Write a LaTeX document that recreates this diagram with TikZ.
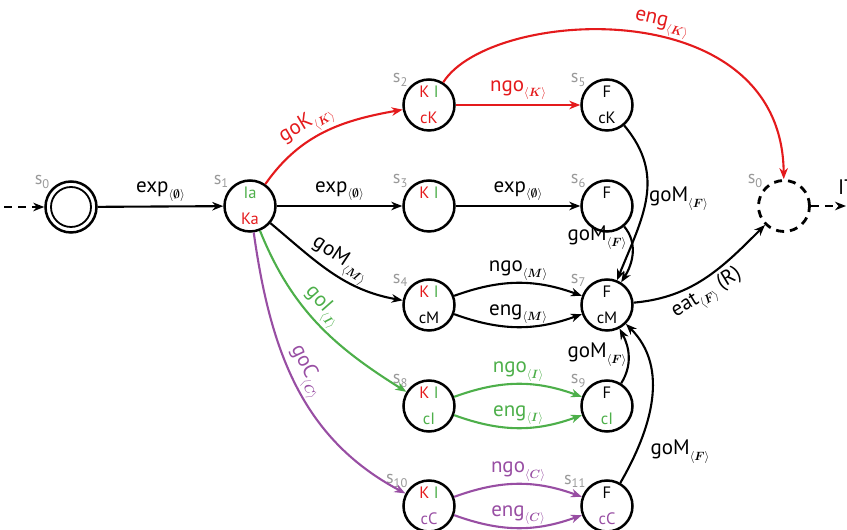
\documentclass[tikz,border=0pt]{standalone}
\usepackage{fontspec}
\setmainfont{PT Sans}
\usepackage{amsmath}
\usetikzlibrary{arrows.meta}
\definecolor{cred}{HTML}{E41A1C}
\definecolor{cgreen}{HTML}{4DAF4A}
\definecolor{cpurple}{HTML}{984EA3}
\definecolor{cgray}{HTML}{999999}
\newcommand\angsub[1]{\raisebox{-0.55ex}{\fontsize{12.5}{12.5}\selectfont$\langle\boldsymbol{#1}\rangle$}}
\newcommand\lab[2]{#1\angsub{#2}}
\newcommand\sn[1]{s\raisebox{-0.4ex}{\fontsize{12.5}{12.5}\selectfont #1}}
\newcommand\cR[1]{\textcolor{cred}{#1}}
\newcommand\cG[1]{\textcolor{cgreen}{#1}}
\newcommand\cP[1]{\textcolor{cpurple}{#1}}
\begin{document}
\begin{tikzpicture}[x=1pt,y=1pt,
  st/.style={circle, draw=black, line width=2.5pt, minimum size=51pt, inner sep=0pt,
    align=center, font=\fontsize{16.5}{26}\selectfont},
  ed/.style={line width=2.1pt, -{Stealth[length=11pt,width=8.5pt,inset=3.5pt]}},
  dsh/.style={line width=2.8pt, dash pattern=on 8pt off 6pt},
  el/.style={font=\fontsize{21}{21}\selectfont, inner sep=2pt},
  slab/.style={text=cgray, font=\fontsize{18}{18}\selectfont, inner sep=1pt},
  every label/.style={slab}]
\useasboundingbox (0,0) rectangle (847,530);
% states
\node[st, label={140:\sn{0}}] (s0) at (71,323) {};
\draw[line width=1.8pt] (s0.center) circle (20pt);
\node[st, label={140:\sn{1}}] (s1) at (250,324) {\cG{Ia}\\\cR{Ka}};
\node[st, label={140:\sn{2}}] (s2) at (429,425) {\cR{K} \cG{I}\\\cR{cK}};
\node[st, label={140:\sn{3}}] (s3) at (429,324) {\cR{K} \cG{I}\\\phantom{cK}};
\node[st, label={140:\sn{5}}] (s5) at (607,425) {F\\cK};
\node[st, label={140:\sn{6}}] (s6) at (607,324) {F\\\phantom{cK}};
\node[st, label={140:\sn{4}}] (s4) at (429,225) {\cR{K} \cG{I}\\cM};
\node[st, label={140:\sn{7}}] (s7) at (607,225) {F\\cM};
\node[st, label={140:\sn{8}}] (s8) at (429,124) {\cR{K} \cG{I}\\\cG{cI}};
\node[st, label={140:\sn{9}}] (s9) at (607,124) {F\\\cG{cI}};
\node[st, label={140:\sn{10}}] (s10) at (429,24) {\cR{K} \cG{I}\\\cP{cC}};
\node[st, label={140:\sn{11}}] (s11) at (607,24) {F\\\cP{cC}};
\node[st, dsh, label={140:\sn{0}}] (sf) at (784,324) {};
\coordinate (in) at (4,323);
\coordinate (out) at (846,324);
\node[el, anchor=base west] (it) at (836,335) {IT};
% edges
\draw[ed, dsh] (in) -- (s0);
\draw[ed, dsh] (sf) -- (out);
\draw[ed] (s0) -- node[el, above=2pt] {\lab{exp}{\emptyset}} (s1);
\draw[ed] (s1) -- node[el, above=2pt] {\lab{exp}{\emptyset}} (s3);
\draw[ed] (s3) -- node[el, above=2pt] {\lab{exp}{\emptyset}} (s6);
\draw[ed, cred] (s1) to[out=55, in=190] node[el, above, sloped, pos=0.42] {\lab{goK}{K}} (s2);
\draw[ed, cred] (s2) -- node[el, above=2pt] {\lab{ngo}{K}} (s5);
\draw[ed, cred] (s2) .. controls (490,522) and (782,540) .. node[el, pos=0.56, above, sloped] {\lab{eng}{K}} (sf);
\draw[ed] (s1) to[out=-40, in=170] node[el, above, sloped, pos=0.5] {\lab{goM}{M}} (s4);
\draw[ed, cgreen] (s1) to[out=-68, in=148] node[el, above, sloped, pos=0.45] {\lab{goI}{I}} (s8);
\draw[ed, cpurple] (s1) to[out=-82, in=152] node[el, above, sloped, pos=0.47] {\lab{goC}{C}} (s10);
\draw[ed] (s4) to[bend left=20] node[el, above] {\lab{ngo}{M}} (s7);
\draw[ed] (s4) to[bend right=20] node[el, above] {\lab{eng}{M}} (s7);
\draw[ed, cgreen] (s8) to[bend left=20] node[el, above] {\lab{ngo}{I}} (s9);
\draw[ed, cgreen] (s8) to[bend right=20] node[el, above] {\lab{eng}{I}} (s9);
\draw[ed, cpurple] (s10) to[bend left=20] node[el, above] {\lab{ngo}{C}} (s11);
\draw[ed, cpurple] (s10) to[bend right=20] node[el, above] {\lab{eng}{C}} (s11);
\draw[ed] (s5) to[out=-50, in=68, looseness=1.1] node[el, right, pos=0.5] {\lab{goM}{F}} (s7);
\draw[ed] (s6) to[out=-50, in=58] (s7);
\node[el] (l6) at (597,292) {\lab{goM}{F}};
\draw[ed] (s9) to[out=58, in=-62] (s7);
\node[el] (l9) at (597,175) {\lab{goM}{F}};
\draw[ed] (s11) to[out=60, in=-45] (s7);
\node[el] (l11) at (680,78) {\lab{goM}{F}};
\draw[ed] (s7) to[out=5, in=225] node[el, below, sloped, pos=0.45] {\lab{eat}{F} (R)} (sf);
\end{tikzpicture}
\end{document}
